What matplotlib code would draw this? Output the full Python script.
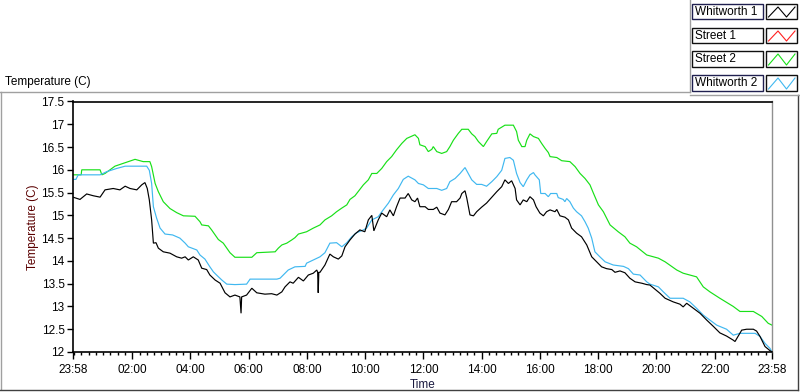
import matplotlib
matplotlib.use('Agg')
import matplotlib.pyplot as plt
from matplotlib.lines import Line2D
from matplotlib.patches import Rectangle

# horas transcurridas desde las 23:58 del dia anterior
t_whit1 = [0.0, 0.24, 0.47, 0.70, 0.93, 1.10, 1.38, 1.61, 1.79, 1.96, 2.19, 2.36, 2.47, 2.55, 2.62,
           2.70, 2.76, 2.85, 2.93, 3.10, 3.33, 3.56, 3.73, 3.85, 3.96, 4.13, 4.30, 4.42, 4.59, 4.70,
           4.88, 5.05, 5.22, 5.39, 5.56, 5.73, 5.77, 5.79, 5.96, 6.14, 6.31, 6.59, 6.82, 7.00, 7.17,
           7.28, 7.45, 7.56, 7.74, 7.91, 8.08, 8.25, 8.37, 8.40, 8.42, 8.44, 8.48, 8.65, 8.82, 8.94,
           9.11, 9.23, 9.34, 9.51, 9.68, 9.85, 10.02, 10.14, 10.26, 10.33, 10.48, 10.60, 10.77, 10.88,
           11.00, 11.11, 11.23, 11.40, 11.51, 11.63, 11.74, 11.83, 11.91, 12.09, 12.20, 12.37, 12.49,
           12.60, 12.77, 12.89, 13.00, 13.17, 13.29, 13.35, 13.46, 13.52, 13.63, 13.75, 13.86, 14.03,
           14.20, 14.38, 14.55, 14.72, 14.83, 14.95, 15.06, 15.18, 15.23, 15.35, 15.46, 15.58, 15.69,
           15.81, 15.90, 16.03, 16.15, 16.26, 16.38, 16.55, 16.61, 16.72, 16.89, 17.01, 17.12, 17.29,
           17.46, 17.64, 17.81, 17.98, 18.15, 18.32, 18.50, 18.61, 18.78, 18.95, 19.12, 19.30, 19.53,
           19.70, 19.81, 20.15, 20.33, 20.61, 20.84, 20.95, 21.07, 21.30, 21.53, 21.76, 21.99, 22.21,
           22.44, 22.67, 22.73, 22.84, 22.96, 23.13, 23.36, 23.47, 23.59, 23.76, 23.93, 24.0]
temp_whit1 = [15.40, 15.35, 15.47, 15.43, 15.40, 15.56, 15.59, 15.56, 15.64, 15.59, 15.56, 15.67, 15.72, 15.59, 15.34,
              14.90, 14.39, 14.40, 14.28, 14.20, 14.17, 14.09, 14.06, 14.09, 14.02, 14.09, 14.02, 13.84, 13.81, 13.69,
              13.58, 13.51, 13.30, 13.21, 13.25, 13.21, 12.85, 13.21, 13.25, 13.40, 13.30, 13.27, 13.28, 13.25, 13.32,
              13.43, 13.54, 13.51, 13.64, 13.56, 13.69, 13.73, 13.80, 13.75, 13.30, 13.75, 13.75, 13.91, 14.15, 14.09,
              14.04, 14.11, 14.31, 14.46, 14.59, 14.68, 14.64, 14.90, 15.00, 14.66, 14.90, 15.05, 14.97, 15.12,
              14.99, 15.19, 15.38, 15.38, 15.48, 15.34, 15.30, 15.38, 15.19, 15.19, 15.13, 15.13, 15.18,
              15.05, 15.01, 15.13, 15.30, 15.30, 15.38, 15.48, 15.54, 15.38, 15.01, 14.99, 15.08, 15.18,
              15.27, 15.40, 15.52, 15.63, 15.78, 15.70, 15.76, 15.59, 15.34, 15.23, 15.34, 15.30, 15.41,
              15.34, 15.19, 15.05, 14.99, 15.08, 15.12, 15.08, 15.13, 14.99, 14.96, 14.90, 14.72, 14.61,
              14.53, 14.35, 14.09, 13.98, 13.87, 13.83, 13.81, 13.75, 13.78, 13.74, 13.62, 13.54, 13.51,
              13.48, 13.47, 13.29, 13.18, 13.10, 13.05, 12.99, 13.07, 12.96, 12.85, 12.70, 12.56, 12.42,
              12.35, 12.26, 12.23, 12.35, 12.48, 12.50, 12.50, 12.46, 12.34, 12.12, 12.03, 12.0]

t_street1 = []
temp_street1 = []

t_street2 = [0.0, 0.28, 0.30, 0.93, 0.99, 1.10, 1.27, 1.44, 1.90, 2.13, 2.41, 2.64, 2.70, 2.82, 2.93,
             3.10, 3.33, 3.56, 3.79, 4.19, 4.36, 4.42, 4.65, 4.76, 4.88, 4.99, 5.16, 5.28, 5.39, 5.56,
             6.14, 6.31, 6.94, 7.05, 7.17, 7.34, 7.51, 7.62, 7.74, 8.02, 8.25, 8.48, 8.65, 8.88, 9.05,
             9.23, 9.40, 9.51, 9.68, 9.85, 9.97, 10.14, 10.26, 10.43, 10.60, 10.77, 10.94, 11.11, 11.29,
             11.46, 11.74, 11.86, 11.91, 12.09, 12.20, 12.32, 12.37, 12.49, 12.66, 12.83, 12.94, 13.06,
             13.23, 13.35, 13.57, 13.69, 13.80, 13.92, 14.03, 14.09, 14.20, 14.38, 14.55, 14.60, 14.83,
             15.12, 15.23, 15.29, 15.41, 15.52, 15.58, 15.69, 15.81, 15.98, 16.09, 16.21, 16.32, 16.38,
             16.61, 16.78, 17.06, 17.24, 17.41, 17.58, 17.75, 17.86, 18.04, 18.21, 18.44, 18.72, 18.95,
             19.12, 19.35, 19.70, 20.10, 20.33, 20.73, 20.95, 21.41, 21.64, 21.87, 22.21, 22.67, 22.90,
             23.36, 23.65, 23.87, 24.0]
temp_street2 = [15.89, 15.89, 16.00, 16.00, 15.89, 15.92, 16.00, 16.08, 16.18, 16.23, 16.18, 16.18, 16.07, 15.70, 15.52,
                15.30, 15.15, 15.06, 14.99, 14.98, 14.86, 14.79, 14.77, 14.68, 14.57, 14.47, 14.39, 14.28, 14.18, 14.08,
                14.08, 14.18, 14.20, 14.28, 14.35, 14.39, 14.46, 14.51, 14.59, 14.64, 14.72, 14.79, 14.90, 14.99, 15.08,
                15.16, 15.23, 15.35, 15.43, 15.57, 15.67, 15.78, 15.92, 15.92, 16.03, 16.18, 16.29, 16.44, 16.58,
                16.69, 16.77, 16.69, 16.55, 16.51, 16.40, 16.45, 16.51, 16.40, 16.36, 16.40, 16.51, 16.65,
                16.80, 16.89, 16.89, 16.79, 16.73, 16.62, 16.55, 16.51, 16.62, 16.79, 16.80, 16.89, 16.98,
                16.98, 16.84, 16.65, 16.51, 16.51, 16.65, 16.79, 16.73, 16.69, 16.58, 16.47, 16.38, 16.29,
                16.27, 16.20, 16.18, 16.07, 15.92, 15.81, 15.67, 15.50, 15.23, 15.08, 14.79, 14.64, 14.53,
                14.39, 14.31, 14.13, 14.06, 13.98, 13.80, 13.73, 13.65, 13.43, 13.32, 13.18, 13.00, 12.89,
                12.89, 12.78, 12.63, 12.59]

t_whit2 = [0.0, 0.10, 0.18, 0.93, 1.16, 1.50, 1.79, 2.53, 2.62, 2.70, 2.76, 2.87, 2.99, 3.16, 3.42,
           3.67, 3.85, 3.96, 4.25, 4.36, 4.53, 4.70, 4.82, 4.93, 5.11, 5.28, 5.56, 5.96, 6.08, 7.00,
           7.11, 7.22, 7.39, 7.62, 7.97, 8.02, 8.25, 8.48, 8.65, 8.82, 9.05, 9.23, 9.40, 9.57, 9.74,
           9.97, 10.08, 10.26, 10.48, 10.65, 10.83, 11.00, 11.17, 11.34, 11.51, 11.74, 11.86, 12.03,
           12.20, 12.49, 12.66, 12.83, 12.94, 13.12, 13.29, 13.46, 13.57, 13.69, 13.86, 14.03, 14.20,
           14.38, 14.55, 14.72, 14.83, 15.00, 15.12, 15.23, 15.35, 15.46, 15.58, 15.69, 15.81, 15.86,
           16.01, 16.06, 16.21, 16.32, 16.40, 16.61, 16.66, 16.83, 16.89, 16.95, 17.06, 17.18, 17.29,
           17.46, 17.58, 17.69, 17.81, 17.92, 18.09, 18.27, 18.55, 18.90, 19.07, 19.24, 19.47, 19.70,
           19.81, 20.10, 20.27, 20.50, 20.95, 21.18, 21.41, 21.64, 21.87, 22.10, 22.44, 22.67, 22.90,
           23.42, 23.59, 23.76, 23.93, 24.0]
temp_whit2 = [15.79, 15.79, 15.89, 15.89, 15.96, 16.03, 16.08, 16.08, 15.99, 15.70, 15.19, 14.94, 14.72, 14.59, 14.57,
              14.50, 14.39, 14.31, 14.24, 14.13, 14.04, 13.87, 13.76, 13.69, 13.58, 13.49, 13.48, 13.49, 13.60, 13.60,
              13.62, 13.69, 13.80, 13.87, 13.88, 13.95, 14.02, 14.09, 14.18, 14.39, 14.40, 14.31, 14.40, 14.53, 14.62,
              14.68, 14.72, 14.90, 14.97, 15.12, 15.27, 15.45, 15.59, 15.79, 15.86, 15.78, 15.70, 15.67,
              15.59, 15.59, 15.55, 15.59, 15.74, 15.81, 15.92, 16.05, 15.92, 15.78, 15.68, 15.68, 15.64,
              15.74, 15.85, 15.99, 16.25, 16.27, 16.21, 15.92, 15.72, 15.63, 15.78, 15.89, 15.94, 15.89,
              15.78, 15.48, 15.48, 15.41, 15.48, 15.48, 15.39, 15.35, 15.30, 15.37, 15.30, 15.16, 15.08,
              14.99, 14.86, 14.72, 14.50, 14.20, 14.09, 13.98, 13.91, 13.88, 13.83, 13.71, 13.69, 13.54,
              13.49, 13.43, 13.32, 13.18, 13.18, 13.10, 12.96, 12.81, 12.70, 12.59, 12.50, 12.37, 12.41,
              12.41, 12.34, 12.19, 12.08, 12.0]

series_names = ["Whitworth 1", "Street 1", "Street 2", "Whitworth 2"]
series_colors = ["#000000", "#ff2020", "#18e018", "#40b8f0"]

x_labels = ["23:58", "02:00", "04:00", "06:00", "08:00", "10:00", "12:00",
            "14:00", "16:00", "18:00", "20:00", "22:00", "23:58"]
y_ticks = [12, 12.5, 13, 13.5, 14, 14.5, 15, 15.5, 16, 16.5, 17, 17.5]

W, H = 800, 392
plt.rcParams['font.family'] = ['Liberation Sans', 'DejaVu Sans']
fs = 8.5
fig = plt.figure(figsize=(W / 100, H / 100), dpi=100)
fig.patch.set_facecolor('white')

def fx(px):
    return px / W

def fy(py):
    return 1 - py / H

ax = fig.add_axes([fx(73), fy(352), fx(772) - fx(73), fy(101.5) - fy(352)])

datos = [(t_whit1, temp_whit1), (t_street1, temp_street1), (t_street2, temp_street2), (t_whit2, temp_whit2)]
orden = [2, 3, 1, 0]  # el negro queda encima
for i in orden:
    t, v = datos[i]
    ax.plot(t, v, color=series_colors[i], lw=0.85, solid_joinstyle='miter')

ax.set_xlim(0, 24)
ax.set_ylim(12, 17.5)
offset = 2 / 60
x_pos = [0] + [h + offset for h in range(2, 23, 2)] + [24]
ax.set_xticks(x_pos)
ax.set_xticklabels(x_labels)
ax.set_xticks([offset + 0.25 * k for k in range(96) if offset + 0.25 * k <= 24], minor=True)
ax.set_yticks(y_ticks)
ax.set_yticklabels(["%g" % v for v in y_ticks])

ax.tick_params(axis='both', which='major', direction='out', length=4, width=1,
               labelsize=fs, colors='black', pad=2)
ax.tick_params(axis='x', which='minor', direction='out', length=2.5, width=1, colors='black')
ax.tick_params(axis='x', which='major', length=5, pad=3.5)

for s in ['left', 'top', 'bottom']:
    ax.spines[s].set_color('black')
    ax.spines[s].set_linewidth(1.2)
ax.spines['right'].set_color('#909090')
ax.spines['right'].set_linewidth(1.0)

ax.set_xlabel("Time", fontsize=fs, color='#1a1a40', labelpad=2)
ax.set_ylabel("Temperature (C)", fontsize=fs, color='#5a0000', labelpad=1.5)

# marco del grafico
gris = '#a0a0a0'
oscuro = '#404040'
fig.add_artist(Line2D([fx(0), fx(690)], [fy(92), fy(92)], color=gris, lw=1))
fig.add_artist(Line2D([fx(0.5), fx(0.5)], [fy(92), fy(389)], color=gris, lw=1))
fig.add_artist(Line2D([fx(0), fx(798)], [fy(389.5), fy(389.5)], color=oscuro, lw=1))
fig.add_artist(Line2D([fx(797.5), fx(797.5)], [fy(95), fy(389.5)], color=oscuro, lw=1))
fig.add_artist(Line2D([fx(690), fx(690)], [fy(0), fy(92)], color=gris, lw=1))
fig.add_artist(Line2D([fx(690), fx(800)], [fy(95), fy(95)], color=gris, lw=1))

fig.text(fx(5), fy(82), "Temperature (C)", fontsize=fs, color='black', va='center', ha='left')

# leyenda
filas = [(4, 19), (28, 43), (51, 67), (75, 91)]
bordes = ['#202050', '#101010', '#101010', '#202050']
for i, (y0, y1) in enumerate(filas):
    fig.add_artist(Rectangle((fx(692), fy(y1)), fx(763) - fx(692), fy(y0) - fy(y1),
                             facecolor='white', edgecolor=bordes[i], lw=1))
    fig.add_artist(Rectangle((fx(766), fy(y1)), fx(796.5) - fx(766), fy(y0) - fy(y1),
                             facecolor='white', edgecolor='#101010', lw=1))
    fig.text(fx(695), fy((y0 + y1) / 2 + 0.5), series_names[i], fontsize=fs,
             color='black', va='center', ha='left')
    zx = [768.5, 778, 786.5, 795]
    zy = [y1 - 2, y0 + 3, y1 - 2, y0 + 3]
    fig.add_artist(Line2D([fx(v) for v in zx], [fy(v) for v in zy],
                          color=series_colors[i], lw=0.8))

fig.savefig("out.png", dpi=100, facecolor='white')
